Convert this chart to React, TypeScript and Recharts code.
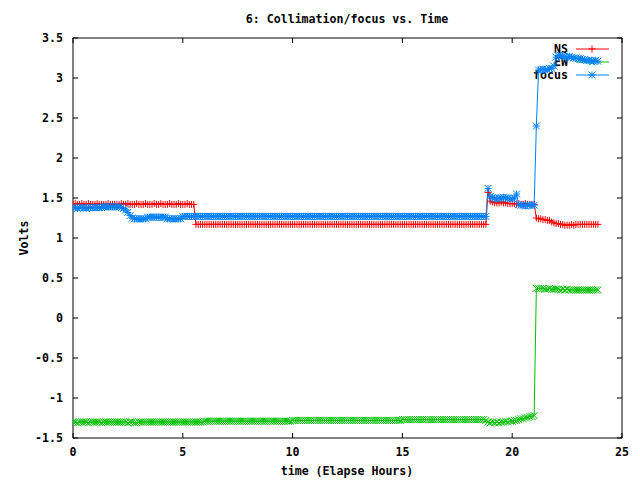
import React from "react";
import {
  LineChart,
  Line,
  XAxis,
  YAxis,
  Legend,
  ReferenceArea,
} from "recharts";

// elapsed hours, sampled every 0.1 h
const times = [
  0, 0.1, 0.2, 0.3, 0.4, 0.5, 0.6, 0.7, 0.8, 0.9,
  1, 1.1, 1.2, 1.3, 1.4, 1.5, 1.6, 1.7, 1.8, 1.9,
  2, 2.1, 2.2, 2.3, 2.4, 2.5, 2.6, 2.7, 2.8, 2.9,
  3, 3.1, 3.2, 3.3, 3.4, 3.5, 3.6, 3.7, 3.8, 3.9,
  4, 4.1, 4.2, 4.3, 4.4, 4.5, 4.6, 4.7, 4.8, 4.9,
  5, 5.1, 5.2, 5.3, 5.4, 5.5, 5.6, 5.7, 5.8, 5.9,
  6, 6.1, 6.2, 6.3, 6.4, 6.5, 6.6, 6.7, 6.8, 6.9,
  7, 7.1, 7.2, 7.3, 7.4, 7.5, 7.6, 7.7, 7.8, 7.9,
  8, 8.1, 8.2, 8.3, 8.4, 8.5, 8.6, 8.7, 8.8, 8.9,
  9, 9.1, 9.2, 9.3, 9.4, 9.5, 9.6, 9.7, 9.8, 9.9,
  10, 10.1, 10.2, 10.3, 10.4, 10.5, 10.6, 10.7, 10.8, 10.9,
  11, 11.1, 11.2, 11.3, 11.4, 11.5, 11.6, 11.7, 11.8, 11.9,
  12, 12.1, 12.2, 12.3, 12.4, 12.5, 12.6, 12.7, 12.8, 12.9,
  13, 13.1, 13.2, 13.3, 13.4, 13.5, 13.6, 13.7, 13.8, 13.9,
  14, 14.1, 14.2, 14.3, 14.4, 14.5, 14.6, 14.7, 14.8, 14.9,
  15, 15.1, 15.2, 15.3, 15.4, 15.5, 15.6, 15.7, 15.8, 15.9,
  16, 16.1, 16.2, 16.3, 16.4, 16.5, 16.6, 16.7, 16.8, 16.9,
  17, 17.1, 17.2, 17.3, 17.4, 17.5, 17.6, 17.7, 17.8, 17.9,
  18, 18.1, 18.2, 18.3, 18.4, 18.5, 18.6, 18.7, 18.8, 18.9,
  19, 19.1, 19.2, 19.3, 19.4, 19.5, 19.6, 19.7, 19.8, 19.9,
  20, 20.1, 20.2, 20.3, 20.4, 20.5, 20.6, 20.7, 20.8, 20.9,
  21, 21.1, 21.2, 21.3, 21.4, 21.5, 21.6, 21.7, 21.8, 21.9,
  22, 22.1, 22.2, 22.3, 22.4, 22.5, 22.6, 22.7, 22.8, 22.9,
  23, 23.1, 23.2, 23.3, 23.4, 23.5, 23.6, 23.7, 23.8, 23.9,
];

const ns = [
  1.42, 1.43, 1.42, 1.42, 1.43, 1.42, 1.42, 1.43, 1.42, 1.42,
  1.42, 1.43, 1.42, 1.42, 1.42, 1.42, 1.43, 1.42, 1.42, 1.42,
  1.42, 1.42, 1.43, 1.42, 1.42, 1.43, 1.42, 1.42, 1.42, 1.43,
  1.42, 1.42, 1.42, 1.43, 1.42, 1.42, 1.42, 1.43, 1.42, 1.42,
  1.43, 1.42, 1.42, 1.42, 1.43, 1.42, 1.42, 1.42, 1.43, 1.42,
  1.42, 1.42, 1.43, 1.42, 1.42, 1.42, 1.17, 1.17, 1.17, 1.17,
  1.17, 1.17, 1.17, 1.17, 1.17, 1.17, 1.17, 1.17, 1.17, 1.17,
  1.17, 1.17, 1.17, 1.17, 1.17, 1.17, 1.17, 1.17, 1.17, 1.17,
  1.17, 1.17, 1.17, 1.17, 1.17, 1.17, 1.17, 1.17, 1.17, 1.17,
  1.17, 1.17, 1.17, 1.17, 1.17, 1.17, 1.17, 1.17, 1.17, 1.17,
  1.17, 1.17, 1.17, 1.17, 1.17, 1.17, 1.17, 1.17, 1.17, 1.17,
  1.17, 1.17, 1.17, 1.17, 1.17, 1.17, 1.17, 1.17, 1.17, 1.17,
  1.17, 1.17, 1.17, 1.17, 1.17, 1.17, 1.17, 1.17, 1.17, 1.17,
  1.17, 1.17, 1.17, 1.17, 1.17, 1.17, 1.17, 1.17, 1.17, 1.17,
  1.17, 1.17, 1.17, 1.17, 1.17, 1.17, 1.17, 1.17, 1.17, 1.17,
  1.17, 1.17, 1.17, 1.17, 1.17, 1.17, 1.17, 1.17, 1.17, 1.17,
  1.17, 1.17, 1.17, 1.17, 1.17, 1.17, 1.17, 1.17, 1.17, 1.17,
  1.17, 1.17, 1.17, 1.17, 1.17, 1.17, 1.17, 1.17, 1.17, 1.17,
  1.17, 1.17, 1.17, 1.17, 1.17, 1.17, 1.17, 1.17, 1.17, 1.57,
  1.46, 1.45, 1.44, 1.44, 1.44, 1.45, 1.44, 1.44, 1.43, 1.43,
  1.43, 1.43, 1.42, 1.43, 1.42, 1.42, 1.43, 1.42, 1.42, 1.42,
  1.42, 1.25, 1.24, 1.24, 1.23, 1.23, 1.22, 1.22, 1.2, 1.19,
  1.18, 1.18, 1.17, 1.17, 1.16, 1.16, 1.16, 1.17, 1.16, 1.17,
  1.17, 1.17, 1.17, 1.17, 1.17, 1.17, 1.17, 1.17, 1.17, 1.17,
];

const ew = [
  -1.3, -1.3, -1.31, -1.3, -1.3, -1.3, -1.3, -1.31, -1.3, -1.3,
  -1.3, -1.3, -1.3, -1.31, -1.3, -1.3, -1.3, -1.3, -1.3, -1.3,
  -1.3, -1.3, -1.3, -1.3, -1.3, -1.31, -1.3, -1.3, -1.31, -1.31,
  -1.3, -1.3, -1.3, -1.3, -1.3, -1.3, -1.3, -1.3, -1.3, -1.3,
  -1.3, -1.3, -1.3, -1.3, -1.3, -1.3, -1.3, -1.3, -1.3, -1.3,
  -1.3, -1.3, -1.3, -1.3, -1.3, -1.3, -1.3, -1.3, -1.3, -1.3,
  -1.29, -1.29, -1.29, -1.29, -1.29, -1.29, -1.29, -1.29, -1.29, -1.29,
  -1.29, -1.29, -1.29, -1.29, -1.29, -1.29, -1.29, -1.29, -1.29, -1.29,
  -1.29, -1.29, -1.29, -1.29, -1.29, -1.29, -1.29, -1.29, -1.29, -1.29,
  -1.29, -1.29, -1.29, -1.29, -1.29, -1.29, -1.29, -1.29, -1.29, -1.29,
  -1.28, -1.28, -1.28, -1.28, -1.28, -1.28, -1.28, -1.28, -1.28, -1.28,
  -1.28, -1.28, -1.28, -1.28, -1.28, -1.28, -1.28, -1.28, -1.28, -1.28,
  -1.28, -1.28, -1.28, -1.28, -1.28, -1.28, -1.28, -1.28, -1.28, -1.28,
  -1.28, -1.28, -1.28, -1.28, -1.28, -1.28, -1.28, -1.28, -1.28, -1.28,
  -1.28, -1.28, -1.28, -1.28, -1.28, -1.28, -1.28, -1.28, -1.28, -1.28,
  -1.27, -1.27, -1.27, -1.27, -1.27, -1.27, -1.27, -1.27, -1.27, -1.27,
  -1.27, -1.27, -1.27, -1.27, -1.27, -1.27, -1.27, -1.27, -1.27, -1.27,
  -1.27, -1.27, -1.27, -1.27, -1.27, -1.27, -1.27, -1.27, -1.27, -1.27,
  -1.27, -1.27, -1.27, -1.27, -1.27, -1.27, -1.27, -1.27, -1.28, -1.3,
  -1.31, -1.3, -1.31, -1.3, -1.31, -1.3, -1.3, -1.29, -1.3, -1.29,
  -1.29, -1.28, -1.28, -1.27, -1.26, -1.26, -1.25, -1.24, -1.23, -1.23,
  -1.22, 0.37, 0.37, 0.37, 0.37, 0.36, 0.36, 0.37, 0.36, 0.36,
  0.36, 0.36, 0.35, 0.36, 0.35, 0.36, 0.35, 0.35, 0.35, 0.35,
  0.35, 0.35, 0.35, 0.35, 0.35, 0.35, 0.35, 0.35, 0.35, 0.35,
];

const focus = [
  1.38, 1.38, 1.37, 1.38, 1.38, 1.38, 1.37, 1.38, 1.38, 1.38,
  1.38, 1.38, 1.38, 1.38, 1.39, 1.39, 1.39, 1.39, 1.39, 1.39,
  1.39, 1.39, 1.38, 1.37, 1.35, 1.32, 1.28, 1.25, 1.24, 1.24,
  1.24, 1.24, 1.24, 1.24, 1.26, 1.26, 1.26, 1.26, 1.26, 1.26,
  1.26, 1.26, 1.26, 1.24, 1.24, 1.24, 1.24, 1.24, 1.24, 1.24,
  1.27, 1.27, 1.27, 1.27, 1.27, 1.27, 1.27, 1.27, 1.27, 1.27,
  1.27, 1.27, 1.27, 1.27, 1.27, 1.27, 1.27, 1.27, 1.27, 1.27,
  1.27, 1.27, 1.27, 1.27, 1.27, 1.27, 1.27, 1.27, 1.27, 1.27,
  1.27, 1.27, 1.27, 1.27, 1.27, 1.27, 1.27, 1.27, 1.27, 1.27,
  1.27, 1.27, 1.27, 1.27, 1.27, 1.27, 1.27, 1.27, 1.27, 1.27,
  1.27, 1.27, 1.27, 1.27, 1.27, 1.27, 1.27, 1.27, 1.27, 1.27,
  1.27, 1.27, 1.27, 1.27, 1.27, 1.27, 1.27, 1.27, 1.27, 1.27,
  1.27, 1.27, 1.27, 1.27, 1.27, 1.27, 1.27, 1.27, 1.27, 1.27,
  1.27, 1.27, 1.27, 1.27, 1.27, 1.27, 1.27, 1.27, 1.27, 1.27,
  1.27, 1.27, 1.27, 1.27, 1.27, 1.27, 1.27, 1.27, 1.27, 1.27,
  1.27, 1.27, 1.27, 1.27, 1.27, 1.27, 1.27, 1.27, 1.27, 1.27,
  1.27, 1.27, 1.27, 1.27, 1.27, 1.27, 1.27, 1.27, 1.27, 1.27,
  1.27, 1.27, 1.27, 1.27, 1.27, 1.27, 1.27, 1.27, 1.27, 1.27,
  1.27, 1.27, 1.27, 1.27, 1.27, 1.27, 1.27, 1.27, 1.27, 1.62,
  1.52, 1.5, 1.5, 1.49, 1.5, 1.5, 1.51, 1.5, 1.5, 1.49,
  1.49, 1.5, 1.55, 1.42, 1.41, 1.41, 1.4, 1.41, 1.41, 1.41,
  1.41, 2.4, 3.1, 3.1, 3.11, 3.1, 3.11, 3.12, 3.12, 3.15,
  3.26, 3.28, 3.28, 3.27, 3.27, 3.26, 3.27, 3.26, 3.25, 3.25,
  3.24, 3.24, 3.23, 3.23, 3.22, 3.22, 3.22, 3.21, 3.22, 3.21,
];

const xTicks = [0, 5, 10, 15, 20, 25];
const yTicks = [-1.5, -1, -0.5, 0, 0.5, 1, 1.5, 2, 2.5, 3, 3.5];

const series = [
  { key: "ns", name: "NS", color: "#ff0000", shape: "plus" },
  { key: "ew", name: "EW", color: "#00c000", shape: "cross" },
  { key: "focus", name: "focus", color: "#0080ff", shape: "star" },
];

const data = times.map((t, i) => ({
  t,
  ns: ns[i],
  ew: ew[i],
  focus: focus[i],
}));

// plot frame in page pixels
const PL = 73;
const PR = 622;
const PT = 38;
const PB = 438;
const TIC = 5;

const FONT = {
  fontFamily: "'DejaVu Sans Mono', 'Liberation Mono', monospace",
  fontWeight: "bold" as const,
  fontSize: 11.6,
};

const marker = (shape: string, x: number, y: number, color: string, k?: any) => {
  const s = 3.5;
  const plus = `M${x - s},${y}H${x + s}M${x},${y - s}V${y + s}`;
  const cross = `M${x - s},${y - s}L${x + s},${y + s}M${x - s},${y + s}L${x + s},${y - s}`;
  const d = shape === "plus" ? plus : shape === "cross" ? cross : plus + cross;
  return <path key={k} d={d} stroke={color} strokeWidth={1} fill="none" />;
};

const YTick = (props: any) => {
  const { y, payload } = props;
  return (
    <g>
      <line x1={PL} x2={PL + TIC} y1={y} y2={y} stroke="#000" />
      <line x1={PR - TIC} x2={PR} y1={y} y2={y} stroke="#000" />
      <text x={63} y={y + 4} textAnchor="end" fill="#000" style={FONT}>
        {String(payload.value)}
      </text>
    </g>
  );
};

const XTick = (props: any) => {
  const { x, payload } = props;
  return (
    <g>
      <line x1={x} x2={x} y1={PB} y2={PB - TIC} stroke="#000" />
      <line x1={x} x2={x} y1={PT} y2={PT + TIC} stroke="#000" />
      <text x={x} y={PB + 18} textAnchor="middle" fill="#000" style={FONT}>
        {String(payload.value)}
      </text>
    </g>
  );
};

// key sits under the data, as in the original
const KeyBox = () => (
  <svg width={130} height={44}>
    {series.map((s, i) => {
      const y = 8 + i * 13;
      return (
        <g key={s.key}>
          <text x={68} y={y + 4} textAnchor="end" fill="#000" style={FONT}>
            {s.name}
          </text>
          <line x1={76} x2={109} y1={y} y2={y} stroke={s.color} />
          {marker(s.shape, 92, y, s.color)}
        </g>
      );
    })}
  </svg>
);

export default function App() {
  return (
    <div
      style={{
        position: "absolute",
        left: 0,
        top: 0,
        width: 640,
        height: 480,
      }}
    >
      <div
        style={{
          ...FONT,
          position: "absolute",
          left: 0,
          top: 12,
          width: 2 * 347,
          textAlign: "center",
          lineHeight: "14px",
          zIndex: 2,
        }}
      >
        6: Collimation/focus vs. Time
      </div>
      <LineChart
        width={640}
        height={480}
        data={data}
        margin={{ top: PT, right: 640 - PR, bottom: 12, left: 13 }}
      >
        <XAxis
          dataKey="t"
          type="number"
          domain={[0, 25]}
          ticks={xTicks}
          allowDataOverflow
          height={30}
          axisLine={false}
          tickLine={false}
          tick={<XTick />}
          label={{
            content: () => (
              <text x={347} y={475} textAnchor="middle" fill="#000" style={FONT}>
                time (Elapse Hours)
              </text>
            ),
          }}
        />
        <YAxis
          type="number"
          domain={[-1.5, 3.5]}
          ticks={yTicks}
          allowDataOverflow
          width={60}
          axisLine={false}
          tickLine={false}
          tick={<YTick />}
          label={{
            content: () => (
              <text
                x={24}
                y={238}
                transform="rotate(-90 24 238)"
                textAnchor="middle"
                dominantBaseline="central"
                fill="#000"
                style={FONT}
              >
                Volts
              </text>
            ),
          }}
        />
        <ReferenceArea
          x1={0}
          x2={25}
          y1={-1.5}
          y2={3.5}
          fill="none"
          fillOpacity={0}
          stroke="#000"
          strokeWidth={1}
          strokeOpacity={1}
        />
        <Legend
          layout="horizontal"
          verticalAlign="middle"
          align="center"
          wrapperStyle={{ left: 500, top: 41, width: 130, height: 44, zIndex: -1 }}
          content={() => <KeyBox />}
        />
        {series.map((s) => (
          <Line
            key={s.key}
            dataKey={s.key}
            name={s.name}
            type="linear"
            stroke={s.color}
            strokeWidth={1}
            isAnimationActive={false}
            activeDot={false}
            dot={(p: any) => marker(s.shape, p.cx, p.cy, s.color, `${s.key}-${p.index}`)}
          />
        ))}
      </LineChart>
    </div>
  );
}
